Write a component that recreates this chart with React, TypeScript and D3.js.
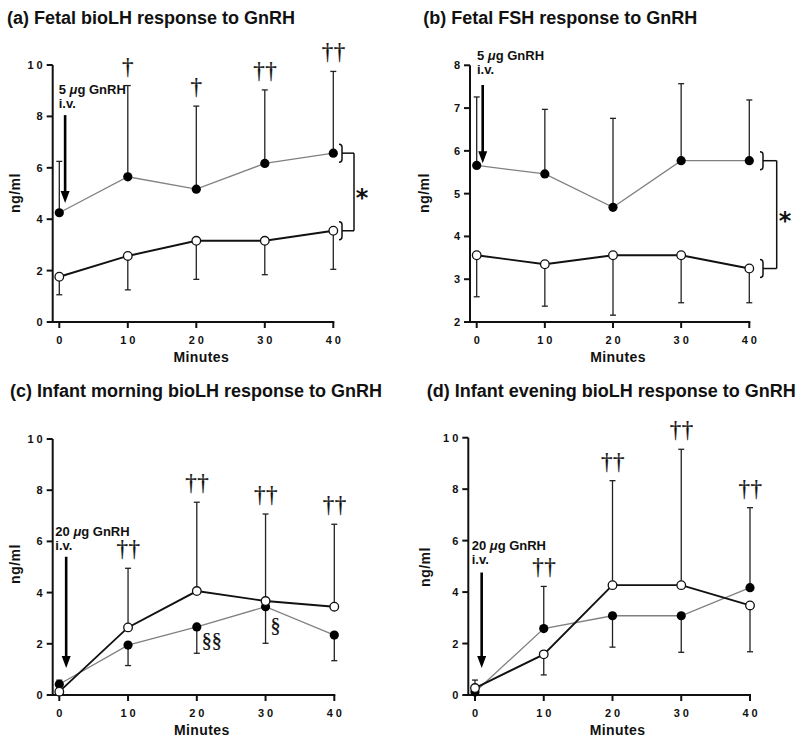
import React from "react";
import * as d3 from "d3";

// ---------- data ----------
const minutes = [0, 10, 20, 30, 40];

// (a) Fetal bioLH
const aFilled = [4.25, 5.65, 5.17, 6.17, 6.57];
const aFilledErr = [6.25, 9.2, 8.4, 9.03, 9.75];
const aOpen = [1.76, 2.57, 3.16, 3.16, 3.55];
const aOpenErr = [1.06, 1.25, 1.66, 1.84, 2.05];
const aDaggers = ["", "\u2020", "\u2020", "\u2020\u2020", "\u2020\u2020"];

// (b) Fetal FSH
const bFilled = [5.66, 5.46, 4.68, 5.77, 5.77];
const bFilledErr = [7.26, 6.97, 6.76, 7.57, 7.19];
const bOpen = [3.56, 3.35, 3.56, 3.56, 3.25];
const bOpenErr = [2.59, 2.37, 2.16, 2.45, 2.45];
const bDaggers = ["", "", "", "", ""];

// (c) Infant morning bioLH
const cFilled = [0.42, 1.95, 2.66, 3.45, 2.34];
const cFilledErr = [0.58, 1.15, 1.63, 2.02, 1.34];
const cOpen = [0.13, 2.64, 4.06, 3.67, 3.45];
const cOpenErr = [null, 4.95, 7.53, 7.07, 6.67];
const cDaggers = ["", "\u2020\u2020", "\u2020\u2020", "\u2020\u2020", "\u2020\u2020"];
const cSections = ["", "", "\u00a7\u00a7", "\u00a7", ""];

// (d) Infant evening bioLH
const dFilled = [0.12, 2.58, 3.08, 3.08, 4.17];
const dFilledErr = [null, 4.22, 1.86, 1.66, 7.28];
const dOpen = [0.27, 1.58, 4.27, 4.27, 3.48];
const dOpenErr = [0.58, 0.78, 8.33, 9.55, 1.68];
const dDaggers = ["", "\u2020\u2020", "\u2020\u2020", "\u2020\u2020", "\u2020\u2020"];

const ticks10 = [0, 2, 4, 6, 8, 10];
const ticks8 = [2, 3, 4, 5, 6, 7, 8];

const titles = [
  "(a) Fetal bioLH response to GnRH",
  "(b) Fetal FSH response to GnRH",
  "(c) Infant morning bioLH response to GnRH",
  "(d) Infant evening bioLH response to GnRH",
];
const doseLabels = ["5", "5", "20", "20"];

const SANS = "'Liberation Sans', Arial, Helvetica, sans-serif";
const SERIF = "'Liberation Serif', 'Times New Roman', serif";

type PanelCfg = {
  title: string;
  titleX: number;
  titleY: number;
  xRange: [number, number];
  yRange: [number, number];
  yDomain: [number, number];
  yTicks: number[];
  axisX: number;
  filled: number[];
  filledErr: (number | null)[];
  open: number[];
  openErr: (number | null)[];
  daggers: string[];
  sections?: string[];
  dose: string;
  doseX: number;
  doseY: number;
  arrowT: number;
  arrowTop: number;
  arrowTip: number;
  ylabX: number;
  ylabY: number;
  bracket?: { bx: number; cx: number; sx: number };
};

function Panel({ c }: { c: PanelCfg }) {
  const x = d3.scaleLinear().domain([0, 40]).range(c.xRange);
  const y = d3.scaleLinear().domain(c.yDomain).range(c.yRange);
  const y0 = c.yRange[0];
  const yTop = c.yRange[1];
  const line = d3
    .line<number>()
    .x((_, i) => x(minutes[i]))
    .y((v) => y(v));
  const capW = 3;
  const errBars = (vals: number[], errs: (number | null)[], key: string) =>
    vals.map((v, i) => {
      const e = errs[i];
      if (e === null || e === undefined) return null;
      const xx = x(minutes[i]);
      return (
        <g key={key + i} stroke="#222" strokeWidth={1.3}>
          <line x1={xx} x2={xx} y1={y(v)} y2={y(e)} />
          <line x1={xx - capW} x2={xx + capW} y1={y(e)} y2={y(e)} />
        </g>
      );
    });
  const last = minutes.length - 1;
  return (
    <g>
      <text x={c.titleX} y={c.titleY} fontFamily={SANS} fontWeight="bold" fontSize={18} fill="#111">
        {c.title}
      </text>
      {/* axes */}
      <g stroke="#111" strokeWidth={2} fill="none">
        <line x1={c.axisX} x2={c.axisX} y1={yTop} y2={y0 + 1} />
        <line x1={c.axisX - 1} x2={c.xRange[1] + 1} y1={y0} y2={y0} />
        {c.yTicks.map((t) => (
          <line key={"yt" + t} x1={c.axisX - 6} x2={c.axisX} y1={y(t)} y2={y(t)} />
        ))}
        {minutes.map((m) => (
          <line key={"xt" + m} x1={x(m)} x2={x(m)} y1={y0} y2={y0 + 6} />
        ))}
      </g>
      {c.yTicks.map((t) => (
        <text
          key={"yl" + t}
          x={c.axisX - 7}
          y={y(t)}
          dy="0.36em"
          textAnchor="end"
          fontFamily={SANS}
          fontWeight="bold"
          fontSize={11}
          letterSpacing={3}
          fill="#111"
        >
          {t}
        </text>
      ))}
      {minutes.map((m) => (
        <text
          key={"xl" + m}
          x={x(m) + 1.5}
          y={y0 + 22}
          textAnchor="middle"
          fontFamily={SANS}
          fontWeight="bold"
          fontSize={11}
          letterSpacing={3}
          fill="#111"
        >
          {m}
        </text>
      ))}
      <text
        x={(c.xRange[0] + c.xRange[1]) / 2 + 5}
        y={y0 + 40}
        textAnchor="middle"
        fontFamily={SANS}
        fontWeight="bold"
        fontSize={14}
        letterSpacing={0.4}
        fill="#111"
      >
        Minutes
      </text>
      <text
        transform={`translate(${c.ylabX},${c.ylabY}) rotate(-90)`}
        textAnchor="middle"
        fontFamily={SANS}
        fontWeight="bold"
        fontSize={14}
        letterSpacing={0.5}
        fill="#111"
      >
        ng/ml
      </text>
      {/* error bars */}
      {errBars(c.filled, c.filledErr, "fe")}
      {errBars(c.open, c.openErr, "oe")}
      {/* lines */}
      <path d={line(c.filled) || ""} fill="none" stroke="#808080" strokeWidth={1.3} />
      <path d={line(c.open) || ""} fill="none" stroke="#111" strokeWidth={1.9} />
      {/* markers */}
      {c.filled.map((v, i) => (
        <circle key={"fm" + i} cx={x(minutes[i])} cy={y(v)} r={4.6} fill="#000" />
      ))}
      {c.open.map((v, i) => (
        <circle key={"om" + i} cx={x(minutes[i])} cy={y(v)} r={4.3} fill="#fff" stroke="#111" strokeWidth={1.3} />
      ))}
      {/* daggers and section marks */}
      <g fill="#111" stroke="#111" strokeWidth={0.25}>
        {c.daggers.map((s, i) => {
          if (!s) return null;
          const vals = [c.filled[i], c.open[i], c.filledErr[i], c.openErr[i]].filter(
            (v) => v !== null && v !== undefined
          ) as number[];
          const top = y(d3.max(vals) as number);
          return (
            <text
              key={"dg" + i}
              x={x(minutes[i]) + (s.length > 1 ? 0.5 : 0)}
              y={top - 12}
              textAnchor="middle"
              fontFamily={SERIF}
              fontSize={23}
              letterSpacing={s.length > 1 ? 0.5 : 0}
            >
              {s}
            </text>
          );
        })}
        {(c.sections || []).map((s, i) => {
          if (!s) return null;
          const yy = y(c.filled[i]);
          return (
            <text
              key={"sc" + i}
              x={x(minutes[i]) + 5}
              y={yy + (s.length > 1 ? 20 : 25)}
              fontFamily={SERIF}
              fontSize={20}
            >
              {s}
            </text>
          );
        })}
      </g>
      {/* GnRH annotation */}
      <text x={c.doseX} y={c.doseY} fontFamily={SANS} fontWeight="bold" fontSize={13} fill="#111">
        {c.dose} <tspan fontStyle="italic">{"\u03bc"}</tspan>g GnRH
      </text>
      <text x={c.doseX} y={c.doseY + 14} fontFamily={SANS} fontWeight="bold" fontSize={13} fill="#111">
        i.v.
      </text>
      <line
        x1={x(c.arrowT)}
        x2={x(c.arrowT)}
        y1={y(c.arrowTop)}
        y2={y(c.arrowTip) - 10}
        stroke="#000"
        strokeWidth={2.6}
      />
      <path
        d={`M${x(c.arrowT) - 4.5},${y(c.arrowTip) - 12} L${x(c.arrowT) + 4.5},${y(c.arrowTip) - 12} L${x(c.arrowT)},${y(c.arrowTip)} Z`}
        fill="#000"
      />
      {/* significance bracket */}
      {c.bracket && (() => {
        const { bx, cx, sx } = c.bracket;
        const ya = y(c.filled[last]);
        const yb = y(c.open[last]);
        const br = (yy: number) =>
          `M${bx - 3},${yy - 9} Q${bx},${yy - 9} ${bx},${yy - 6} L${bx},${yy + 6} Q${bx},${yy + 9} ${bx - 3},${yy + 9}`;
        return (
          <g>
            <g stroke="#111" strokeWidth={1.5} fill="none">
              <path d={br(ya)} />
              <path d={br(yb)} />
              <line x1={bx} x2={cx} y1={ya} y2={ya} />
              <line x1={bx} x2={cx} y1={yb} y2={yb} />
              <line x1={cx} x2={cx} y1={ya} y2={yb} />
            </g>
            <text
              x={sx}
              y={(ya + yb) / 2 + 14}
              textAnchor="middle"
              fontFamily="'DejaVu Sans', sans-serif"
              fontWeight="bold"
              fontSize={24}
              fill="#111"
            >
              *
            </text>
          </g>
        );
      })()}
    </g>
  );
}

const panels: PanelCfg[] = [
  {
    title: titles[0],
    titleX: 7,
    titleY: 24,
    xRange: [59.3, 333.3],
    yRange: [322, 65],
    yDomain: [0, 10],
    yTicks: ticks10,
    axisX: 52.7,
    filled: aFilled,
    filledErr: aFilledErr,
    open: aOpen,
    openErr: aOpenErr,
    daggers: aDaggers,
    dose: doseLabels[0],
    doseX: 58.7,
    doseY: 94,
    arrowT: 0.85,
    arrowTop: 8.05,
    arrowTip: 4.63,
    ylabX: 20,
    ylabY: 193,
    bracket: { bx: 342, cx: 354, sx: 362 },
  },
  {
    title: titles[1],
    titleX: 423.3,
    titleY: 24,
    xRange: [476.7, 749.3],
    yRange: [322, 65.3],
    yDomain: [2, 8],
    yTicks: ticks8,
    axisX: 470,
    filled: bFilled,
    filledErr: bFilledErr,
    open: bOpen,
    openErr: bOpenErr,
    daggers: bDaggers,
    dose: doseLabels[1],
    doseX: 477,
    doseY: 60,
    arrowT: 0.88,
    arrowTop: 7.54,
    arrowTip: 5.71,
    ylabX: 429,
    ylabY: 193,
    bracket: { bx: 763, cx: 776.7, sx: 785 },
  },
  {
    title: titles[2],
    titleX: 10,
    titleY: 396.7,
    xRange: [59.3, 334.3],
    yRange: [695, 439],
    yDomain: [0, 10],
    yTicks: ticks10,
    axisX: 52.7,
    filled: cFilled,
    filledErr: cFilledErr,
    open: cOpen,
    openErr: cOpenErr,
    daggers: cDaggers,
    sections: cSections,
    dose: doseLabels[2],
    doseX: 55.3,
    doseY: 535.7,
    arrowT: 1.0,
    arrowTop: 5.4,
    arrowTip: 1.05,
    ylabX: 20,
    ylabY: 564,
  },
  {
    title: titles[3],
    titleX: 426.7,
    titleY: 396.7,
    xRange: [475, 750],
    yRange: [695, 437.7],
    yDomain: [0, 10],
    yTicks: ticks10,
    axisX: 468.3,
    filled: dFilled,
    filledErr: dFilledErr,
    open: dOpen,
    openErr: dOpenErr,
    daggers: dDaggers,
    dose: doseLabels[3],
    doseX: 471.7,
    doseY: 550,
    arrowT: 0.97,
    arrowTop: 4.76,
    arrowTip: 1.05,
    ylabX: 430,
    ylabY: 567,
  },
];

export default function App() {
  return (
    <svg
      width={800}
      height={743}
      viewBox="0 0 800 743"
      style={{ position: "absolute", left: 0, top: 0, background: "#fff" }}
    >
      <rect width={800} height={743} fill="#fff" />
      {panels.map((p, i) => (
        <Panel key={i} c={p} />
      ))}
    </svg>
  );
}
